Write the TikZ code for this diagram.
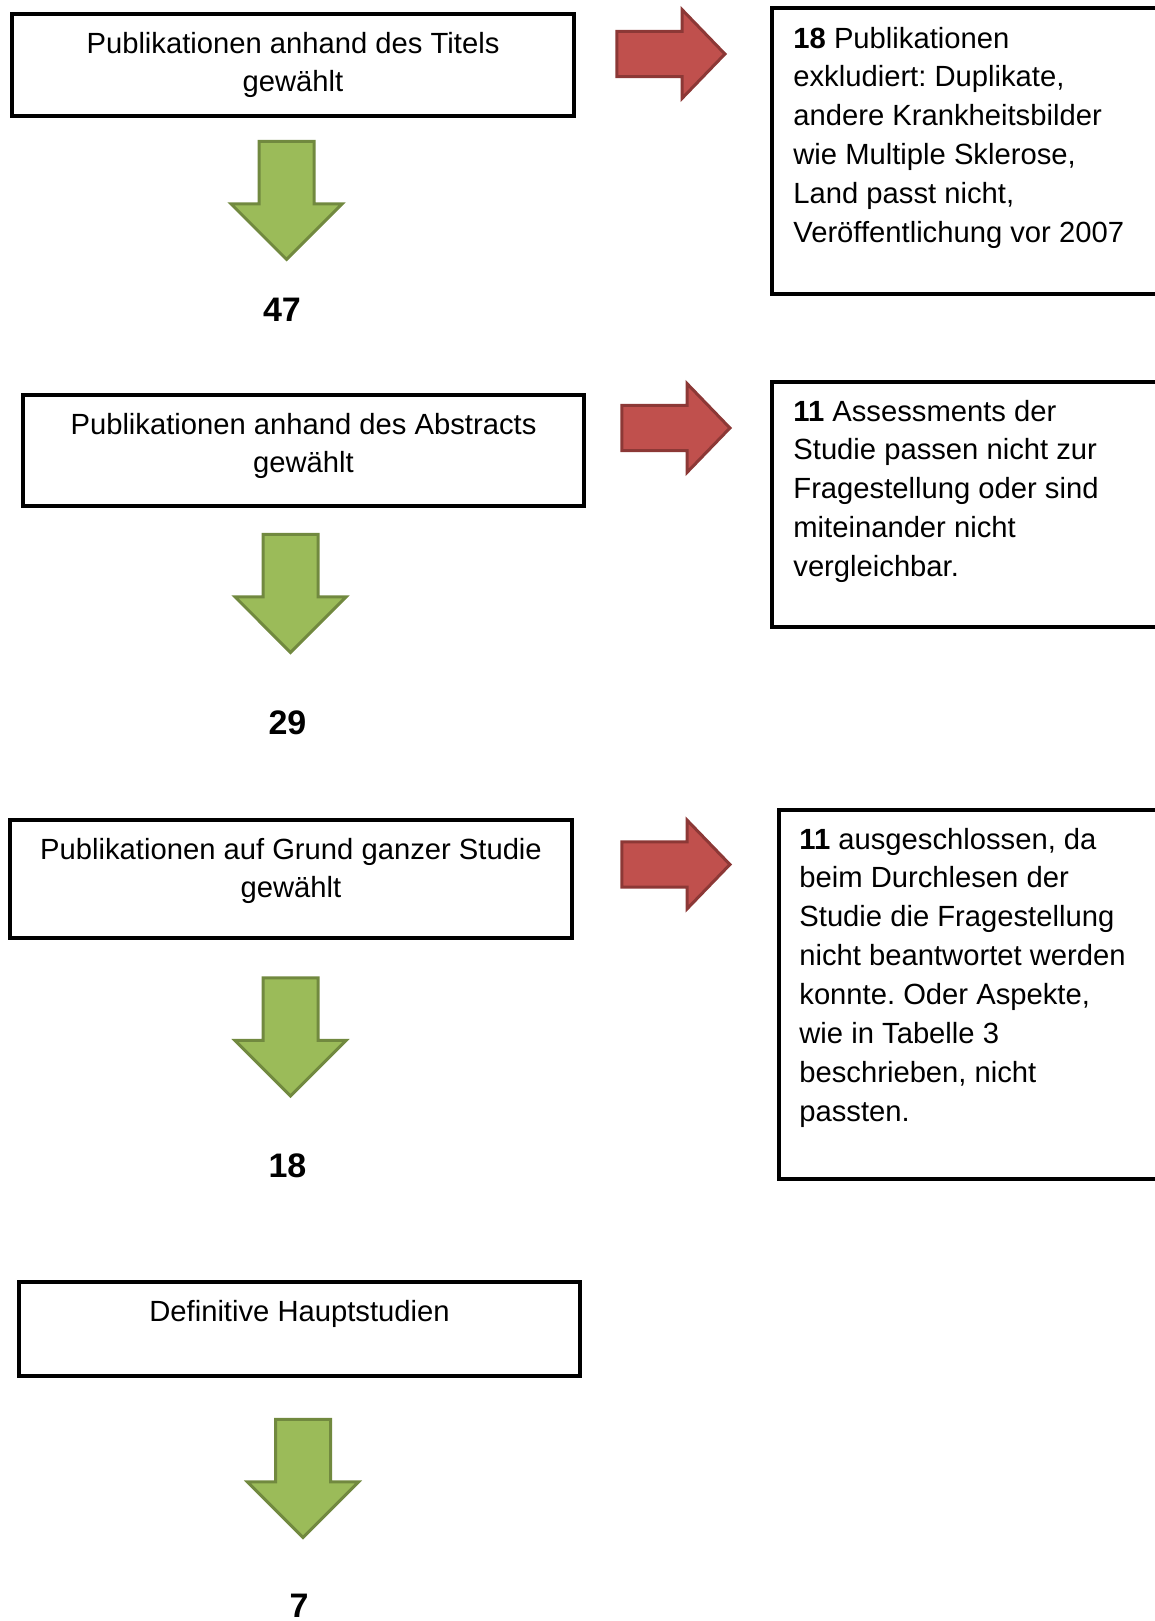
\documentclass[tikz,border=0pt]{standalone}
\usepackage{fontspec}
\setmainfont{Liberation Sans}
\usetikzlibrary{shapes.arrows, positioning}
\frenchspacing

\definecolor{flowgreen}{HTML}{9BBB59}
\definecolor{flowgreendark}{HTML}{71893F}
\definecolor{flowred}{HTML}{C0504D}
\definecolor{flowreddark}{HTML}{8C3836}

\begin{document}
\begin{tikzpicture}[
    x=0.5pt, y=-0.5pt,
    font=\fontsize{14.6}{19.45}\selectfont,
    stepbox/.style={draw=black, line width=2pt, inner sep=0pt, anchor=north west},
    steptext/.style={inner sep=0pt, align=center},
    notetext/.style={inner sep=0pt, anchor=north west, align=left},
    count/.style={inner sep=0pt, font=\fontsize{17}{20}\selectfont\bfseries},
    downarrow/.style={single arrow, draw=flowgreendark, fill=flowgreen, line width=1.5pt,
        shape border rotate=270, minimum width=54pt, minimum height=59pt,
        single arrow head extend=14pt, single arrow tip angle=90, inner sep=13pt, anchor=tip},
    outarrow/.style={single arrow, draw=flowreddark, fill=flowred, line width=1.5pt,
        minimum width=43pt, minimum height=54pt,
        single arrow head extend=10.8pt, single arrow tip angle=92, inner sep=10.6pt, anchor=tip}
]
   \path[use as bounding box] (0,0) rectangle (1155,1621);
   \clip (0,0) rectangle (1155,1621);

   % Main steps
   \node[stepbox, minimum width=281pt, minimum height=51pt] (titel) at (10,12) {};
   \node[steptext, below=9.75pt of titel.north] (titeltxt) {Publikationen anhand des Titels\\gewählt};

   \node[stepbox, minimum width=280.5pt, minimum height=55.5pt] (abstract) at (21,393) {};
   \node[steptext, below=9.75pt of abstract.north] (abstracttxt) {Publikationen anhand des Abstracts\\gewählt};

   \node[stepbox, minimum width=281pt, minimum height=59pt] (studie) at (8,818) {};
   \node[steptext, below=9.75pt of studie.north] (studietxt) {Publikationen auf Grund ganzer Studie\\gewählt};

   \node[stepbox, minimum width=280.5pt, minimum height=47pt] (haupt) at (17,1280) {};
   \node[steptext, below=9.75pt of haupt.north] (haupttxt) {Definitive Hauptstudien};

   % Down arrows and counts
   \node[downarrow] (down1) at (286.5,261.5) {};
   \node[count] (n47) at (282,310) {47};

   \node[downarrow] (down2) at (290.5,654.5) {};
   \node[count] (n29) at (287.5,723) {29};

   \node[downarrow] (down3) at (290.5,1098) {};
   \node[count] (n18) at (287.5,1166) {18};

   \node[downarrow] (down4) at (303,1539.6) {};
   \node[count] (n7) at (299,1605.5) {7};

   % Exclusions
   \node[outarrow] (out1) at (727,54) {};
   \node[stepbox, minimum width=215pt, minimum height=143pt] (excl1) at (770,6) {};
   \node[notetext] (excl1txt) at ([xshift=11.5pt, yshift=-10.25pt]excl1.north west)
      {\textbf{18} Publikationen\\exkludiert: Duplikate,\\andere Krankheitsbilder\\wie Multiple Sklerose,\\Land passt nicht,\\Veröffentlichung vor 2007};

   \node[outarrow] (out2) at (732,428) {};
   \node[stepbox, minimum width=215pt, minimum height=122.5pt] (excl2) at (770,380) {};
   \node[notetext] (excl2txt) at ([xshift=11.5pt, yshift=-9.75pt]excl2.north west)
      {\textbf{11} Assessments der\\Studie passen nicht zur\\Fragestellung oder sind\\miteinander nicht\\vergleichbar.};

   \node[outarrow] (out3) at (732,864.5) {};
   \node[stepbox, minimum width=215pt, minimum height=184.5pt] (excl3) at (777,808) {};
   \node[notetext] (excl3txt) at ([xshift=11pt, yshift=-9.75pt]excl3.north west)
      {\textbf{11} ausgeschlossen, da\\beim Durchlesen der\\Studie die Fragestellung\\nicht beantwortet werden\\konnte. Oder Aspekte,\\wie in Tabelle 3\\beschrieben, nicht\\passten.};
\end{tikzpicture}
\end{document}
